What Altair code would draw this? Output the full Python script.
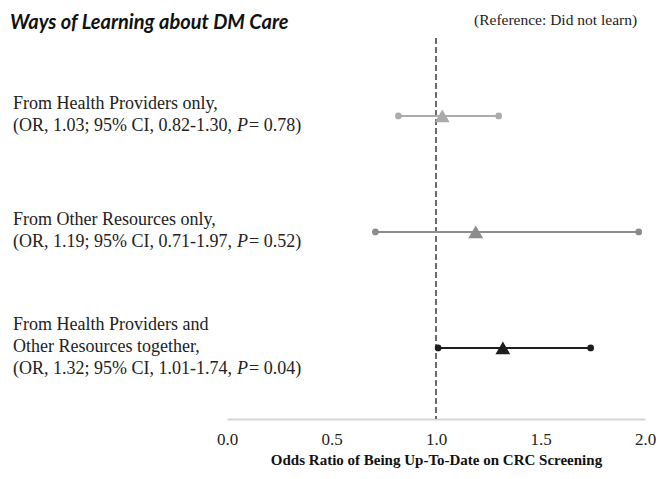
import altair as alt
import pandas as pd

# ---- data ----
rows = ["HP only", "Other only", "Both"]
name_lines = [
    "From Health Providers only,",
    "From Other Resources only,",
    "From Health Providers and\nOther Resources together,",
]
or_vals = [1.03, 1.19, 1.32]
ci_low = [0.82, 0.71, 1.01]
ci_high = [1.30, 1.97, 1.74]
p_vals = [0.78, 0.52, 0.04]
colors = ["#ababab", "#8c8c8c", "#1e1e1e"]
x_ticks = [0.0, 0.5, 1.0, 1.5, 2.0]
reference_value = 1.0

title_text = "Ways of Learning about DM Care"
note_text = "(Reference: Did not learn)"
x_title = "Odds Ratio of Being Up-To-Date on CRC Screening"

SERIF = "Liberation Serif"
FS = 18
LH = 22

recs = []
for r, nm, o, lo, hi, p in zip(rows, name_lines, or_vals, ci_low, ci_high, p_vals):
    n_name = nm.count("\n") + 1
    recs.append({
        "row": r,
        "nlines": n_name + 1,
        "block": nm + "\n" + f"(OR, {o:.2f}; 95% CI, {lo:.2f}-{hi:.2f}, ",
        "pblock": "P",
        "rest": f"= {p:.2f})",
        "or": o, "lo": lo, "hi": hi,
    })
df = pd.DataFrame(recs)

yenc = alt.Y("row:N", sort=rows, axis=None,
             scale=alt.Scale(type="point", padding=0.642, align=0.523))
cenc = alt.Color("row:N", scale=alt.Scale(domain=rows, range=colors), legend=None)
xscale = alt.Scale(domain=[0, 2], nice=False)

base = alt.Chart(df)

ref_rule = alt.Chart(pd.DataFrame({"v": [reference_value]})).mark_rule(
    color="#6b6b6b", strokeDash=[6, 3], strokeWidth=2
).encode(x=alt.X("v:Q", scale=xscale,
                 axis=alt.Axis(values=x_ticks, format=".1f", labelFont=SERIF,
                               labelFontSize=17, labelColor="#222", ticks=False,
                               domainColor="#d6d6d6", domainWidth=2, grid=False,
                               labelPadding=12, labelFlush=False,
                               title=x_title, titleFont=SERIF, titleFontSize=15,
                               titleFontWeight="bold", titleColor="#111",
                               titlePadding=5)))

ci = base.mark_rule(strokeWidth=2).encode(
    x=alt.X("lo:Q", scale=xscale), x2="hi:Q", y=yenc, color=cenc)
lo_pt = base.mark_circle(size=45, opacity=1).encode(
    x=alt.X("lo:Q", scale=xscale), y=yenc, color=cenc)
hi_pt = base.mark_circle(size=45, opacity=1).encode(
    x=alt.X("hi:Q", scale=xscale), y=yenc, color=cenc)
tri = base.mark_point(shape="triangle-up", filled=True, size=220, opacity=1).encode(
    x=alt.X("or:Q", scale=xscale), y=yenc, color=cenc)

x0 = -214
txt_common = dict(font=SERIF, fontSize=FS, lineHeight=LH, lineBreak="\n",
                  align="left", baseline="middle", color="#222")
text_layers = []
for rec in recs:
    dy = -(rec["nlines"] - 1) * LH / 2 - 1
    dy_last = dy + (rec["nlines"] - 1) * LH
    sub = base.transform_filter(alt.datum.row == rec["row"])
    text_layers.append(sub.mark_text(dy=dy, **txt_common).encode(
        x=alt.value(x0), y=yenc, text="block:N"))
    text_layers.append(sub.mark_text(dy=dy_last, fontStyle="italic", **txt_common).encode(
        x=alt.value(x0 + 224), y=yenc, text="pblock:N"))
    text_layers.append(sub.mark_text(dy=dy_last, **txt_common).encode(
        x=alt.value(x0 + 236), y=yenc, text="rest:N"))

title = alt.Chart(pd.DataFrame({"t": [title_text]})).mark_text(
    font="Lato", fontSize=20, fontWeight="bold", fontStyle="italic",
    align="left", baseline="alphabetic", color="#111"
).encode(x=alt.value(-217), y=alt.value(-9), text="t:N")
note = alt.Chart(pd.DataFrame({"t": [note_text]})).mark_text(
    font=SERIF, fontSize=15.5, align="left", baseline="alphabetic", color="#222"
).encode(x=alt.value(247), y=alt.value(-13), text="t:N")

chart = alt.layer(ref_rule, ci, lo_pt, hi_pt, tri, *text_layers, title, note).properties(
    width=418, height=381,
    padding={"left": 219, "top": 30, "right": 11, "bottom": 52},
    autosize=alt.AutoSizeParams(type="none"),
).configure_view(stroke=None)

chart.save("out.html", embed_options={"renderer": "svg", "actions": False})
